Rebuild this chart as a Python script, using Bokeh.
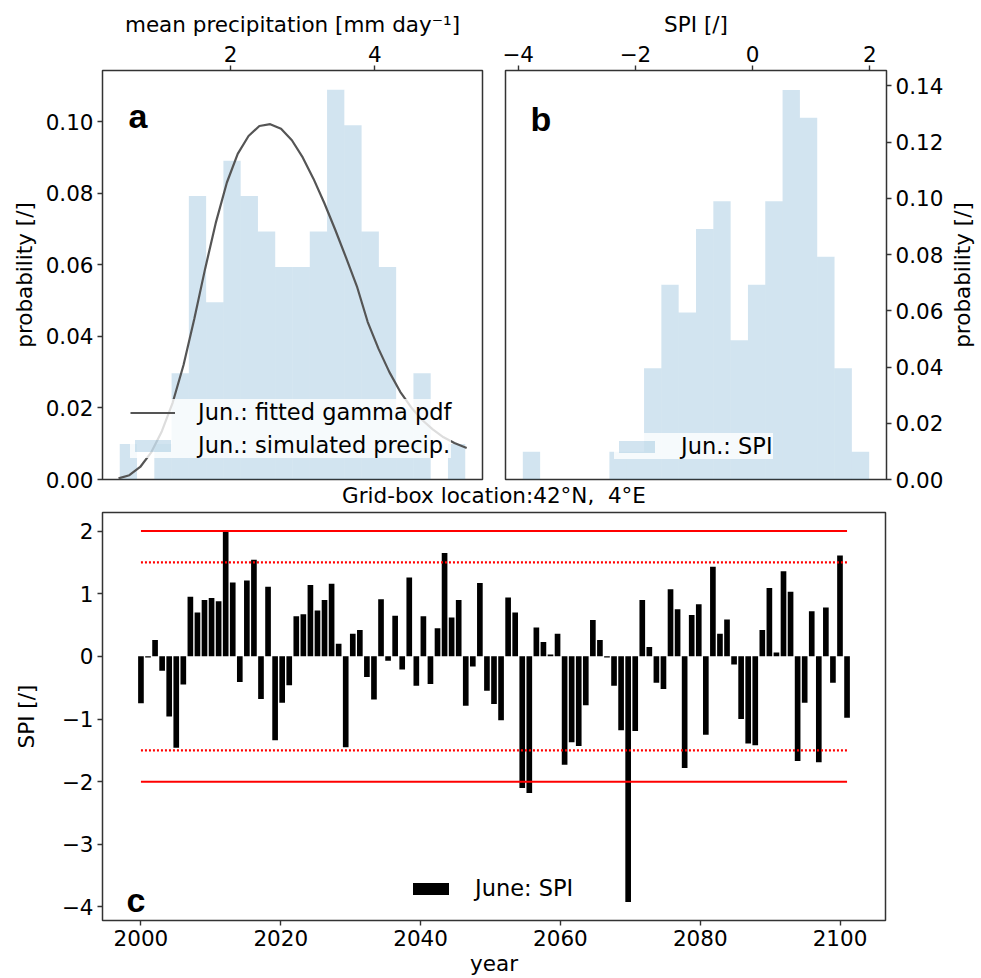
import numpy as np
from bokeh.plotting import figure
from bokeh.models import (Range1d, FixedTicker, NumeralTickFormatter, Legend,
                          LegendItem, Label)
from bokeh.layouts import column, row
from bokeh.embed import file_html
from bokeh.resources import INLINE

# ---------------- data ----------------
# panel a: histogram of simulated June mean precipitation (20 bins)
precip_bin_range = (0.467, 5.25)
precip_prob = [0.0099, 0.0, 0.0099, 0.0297, 0.0792, 0.0495, 0.0891, 0.0792,
               0.0693, 0.0594, 0.0594, 0.0693, 0.1089, 0.0990, 0.0693, 0.0594,
               0.0198, 0.0297, 0.0, 0.0099]
# fitted gamma pdf (scaled to bin width)
gamma_x = [0.45, 0.6, 0.75, 0.9, 1.05, 1.2, 1.35, 1.5, 1.65, 1.8, 1.95, 2.1,
           2.25, 2.4, 2.55, 2.7, 2.85, 3.0, 3.15, 3.3, 3.45, 3.6, 3.75, 3.9,
           4.05, 4.2, 4.35, 4.5, 4.65, 4.8, 4.95, 5.1, 5.27]
gamma_y = [0.0003, 0.0012, 0.0035, 0.0075, 0.0135, 0.0215, 0.032, 0.045,
           0.059, 0.072, 0.083, 0.091, 0.096, 0.0988, 0.0993, 0.0980, 0.0948,
           0.0900, 0.0840, 0.0772, 0.0698, 0.0620, 0.0540, 0.0440, 0.0365,
           0.0300, 0.0245, 0.0202, 0.0167, 0.0140, 0.0118, 0.0102, 0.0088]

# panel b: histogram of June SPI (20 bins)
spi_bin_range = (-3.92, 1.99)
spi_prob = [0.0099, 0.0, 0.0, 0.0, 0.0, 0.0099, 0.0099, 0.0396, 0.0693,
            0.0594, 0.0891, 0.0990, 0.0495, 0.0693, 0.0990, 0.1386, 0.1287,
            0.0792, 0.0396, 0.0099]

# panel c: yearly June SPI
years = list(range(2000, 2101))
spi = [-0.75, -0.02, 0.26, -0.23, -0.96, -1.46, -0.45, 0.95, 0.70, 0.90,
       0.93, 0.88, 1.99, 1.18, -0.41, 1.21, 1.54, -0.68, 1.11, -1.34,
       -0.74, -0.46, 0.64, 0.67, 1.14, 0.73, 0.90, 1.16, 0.20, -1.45,
       0.36, 0.42, -0.33, -0.69, 0.91, -0.07, 0.65, -0.21, 1.26, -0.47,
       0.64, -0.44, 0.45, 1.65, 0.62, 0.90, -0.79, -0.16, 1.17, -0.55,
       -0.76, -1.02, 0.94, 0.70, -2.10, -2.18, 0.46, 0.23, 0.03, 0.36,
       -1.73, -1.37, -1.43, -0.78, 0.58, 0.26, -0.02, -0.47, -1.18, -3.92,
       -1.19, 0.90, 0.15, -0.42, -0.52, 1.07, 0.75, -1.78, 0.66, 0.83,
       -1.25, 1.43, 0.36, 0.59, -0.13, -1.00, -1.39, -1.42, 0.42, 1.09,
       0.06, 1.36, 1.03, -1.67, -0.74, 0.72, -1.69, 0.78, -0.42, 1.61,
       -0.98]
bar_span = (2000, 2101)          # the bars are spread over this x span
solid_levels = [2.0, -2.0]
dotted_levels = [1.5, -1.5]

prob_ticks_a = [0.0, 0.02, 0.04, 0.06, 0.08, 0.10]
prob_ticks_b = [0.0, 0.02, 0.04, 0.06, 0.08, 0.10, 0.12, 0.14]
precip_ticks = [2, 4]
spi_ticks_b = [-4, -2, 0, 2]
year_ticks = [2000, 2020, 2040, 2060, 2080, 2100]
spi_ticks_c = [-4, -3, -2, -1, 0, 1, 2]

# ---------------- styling ----------------
FONT = "DejaVu Sans"
FS = "21.5px"
LFS = "22.5px"
HIST_COLOR = "#1f77b4"
FRAME = "#333333"


def minus(v):
    s = ("%g" % v)
    return s.replace("-", "\u2212")


def style_axis(ax, standoff=6):
    ax.major_label_text_font = FONT
    ax.major_label_text_font_size = FS
    ax.major_label_text_color = "black"
    ax.axis_label_text_font = FONT
    ax.axis_label_text_font_size = FS
    ax.axis_label_text_font_style = "normal"
    ax.axis_label_text_color = "black"
    ax.axis_label_standoff = standoff
    ax.major_tick_in = 0
    ax.major_tick_out = 5
    ax.minor_tick_in = 0
    ax.minor_tick_out = 0
    ax.major_tick_line_color = FRAME
    ax.major_tick_line_width = 1.4
    ax.axis_line_color = None
    ax.major_label_standoff = 4


def base_fig(**kw):
    p = figure(output_backend="svg", toolbar_location=None, **kw)
    p.grid.visible = False
    p.outline_line_color = FRAME
    p.outline_line_width = 1.5
    p.outline_line_alpha = 1.0
    p.background_fill_color = "white"
    p.border_fill_color = "white"
    return p


def style_legend(lg, standoff):
    lg.label_text_font = FONT
    lg.label_text_font_size = LFS
    lg.label_text_color = "black"
    lg.glyph_width = 45
    lg.glyph_height = 15
    lg.label_standoff = standoff
    lg.label_height = 25
    lg.padding = 8
    lg.spacing = 7
    lg.margin = 0
    lg.background_fill_color = "white"
    lg.background_fill_alpha = 0.8
    lg.border_line_color = None


def panel_letter(p, txt, x, y):
    p.add_layout(Label(x=x, y=y, x_units="screen", y_units="screen", text=txt,
                       text_font="Liberation Sans", text_font_size="34px",
                       text_font_style="bold", text_color="black",
                       text_baseline="alphabetic", text_align="left"))


# ---------------- panel a ----------------
pa = base_fig(width=493, height=492, x_range=Range1d(0.228, 5.489),
              y_range=Range1d(0, 0.1143), x_axis_location="above",
              y_axis_location="left", min_border_left=102,
              min_border_right=11, min_border_top=70, min_border_bottom=13)
edges_a = np.linspace(precip_bin_range[0], precip_bin_range[1], len(precip_prob) + 1)
ra_hist = pa.quad(left=edges_a[:-1], right=edges_a[1:], bottom=0, top=precip_prob,
                  fill_color=HIST_COLOR, fill_alpha=0.2, line_color=None)
ra_line = pa.line(gamma_x, gamma_y, line_color="#555555", line_width=2.2)
style_axis(pa.xaxis[0])
pa.xaxis[0].ticker = FixedTicker(ticks=precip_ticks)
pa.xaxis[0].axis_label = "mean precipitation [mm day\u207b\u00b9]"
style_axis(pa.yaxis[0])
pa.yaxis[0].ticker = FixedTicker(ticks=prob_ticks_a)
pa.yaxis[0].formatter = NumeralTickFormatter(format="0.00")
pa.yaxis[0].axis_label = "probability [/]"
lga = Legend(items=[LegendItem(label="Jun.: fitted gamma pdf", renderers=[ra_line]),
                    LegendItem(label="Jun.: simulated precip.", renderers=[ra_hist])],
             location=(28, 21))
style_legend(lga, 23)
pa.add_layout(lga)
panel_letter(pa, "a", 26, 364)

# ---------------- panel b ----------------
pb = base_fig(width=453, height=492, x_range=Range1d(-4.2155, 2.2855),
              y_range=Range1d(0, 0.1455), x_axis_location="above",
              y_axis_location="right", min_border_left=12,
              min_border_right=60, min_border_top=70, min_border_bottom=13)
edges_b = np.linspace(spi_bin_range[0], spi_bin_range[1], len(spi_prob) + 1)
rb_hist = pb.quad(left=edges_b[:-1], right=edges_b[1:], bottom=0, top=spi_prob,
                  fill_color=HIST_COLOR, fill_alpha=0.2, line_color=None)
style_axis(pb.xaxis[0])
pb.xaxis[0].ticker = FixedTicker(ticks=spi_ticks_b)
pb.xaxis[0].major_label_overrides = {t: minus(t) for t in spi_ticks_b}
pb.xaxis[0].axis_label = "SPI [/]"
style_axis(pb.yaxis[0])
pb.yaxis[0].ticker = FixedTicker(ticks=prob_ticks_b)
pb.yaxis[0].formatter = NumeralTickFormatter(format="0.00")
lgb = Legend(items=[LegendItem(label="Jun.: SPI", renderers=[rb_hist])],
             location=(109, 20))
style_legend(lgb, 22)
lgb.padding = 7
pb.add_layout(lgb)
panel_letter(pb, "b", 25, 361)

# narrow strip that carries panel b's y-axis title (reads bottom to top)
pd = figure(width=35, height=492, output_backend="svg", toolbar_location=None,
            x_range=Range1d(0, 1), y_range=Range1d(0, 0.1455),
            x_axis_location=None, y_axis_location="left",
            min_border_left=27, min_border_right=0, min_border_top=70,
            min_border_bottom=13)
pd.grid.visible = False
pd.outline_line_color = None
pd.background_fill_color = "white"
pd.border_fill_color = "white"
style_axis(pd.yaxis[0], standoff=0)
pd.yaxis[0].ticker = FixedTicker(ticks=[])
pd.yaxis[0].major_tick_out = 0
pd.yaxis[0].major_label_standoff = 0
pd.yaxis[0].axis_label = "probability [/]"

# ---------------- panel c ----------------
pc = base_fig(width=981, height=503, x_range=Range1d(1994.5, 2106.5),
              y_range=Range1d(-4.216, 2.296), min_border_left=102,
              min_border_right=96, min_border_top=37, min_border_bottom=57,
              title="Grid-box location:42\u00b0N, \u00a04\u00b0E")
pc.margin = (-17, 0, 0, 0)
pc.border_fill_alpha = 0.0
pc.title.align = "center"
pc.title.text_font = FONT
pc.title.text_font_size = FS
pc.title.text_font_style = "normal"
pc.title.text_color = "black"
pc.title.standoff = 10
xpos = np.linspace(bar_span[0], bar_span[1], len(spi))
rc_bar = pc.vbar(x=xpos, top=spi, bottom=0, width=0.81, fill_color="black",
                 line_color=None)
for lvl in solid_levels:
    pc.line([bar_span[0], bar_span[1]], [lvl, lvl], line_color="red", line_width=2)
for lvl in dotted_levels:
    pc.line([bar_span[0], bar_span[1]], [lvl, lvl], line_color="red",
            line_width=2.2, line_dash="2 2")
style_axis(pc.xaxis[0])
pc.xaxis[0].ticker = FixedTicker(ticks=year_ticks)
pc.xaxis[0].axis_label = "year"
pc.xaxis[0].axis_label_standoff = 2
style_axis(pc.yaxis[0], standoff=20)
pc.yaxis[0].ticker = FixedTicker(ticks=spi_ticks_c)
pc.yaxis[0].major_label_overrides = {t: minus(t) for t in spi_ticks_c}
pc.yaxis[0].axis_label = "SPI [/]"
lgc = Legend(items=[LegendItem(label="June: SPI", renderers=[rc_bar])],
             location=(306, 19))
style_legend(lgc, 22)
pc.add_layout(lgc)
panel_letter(pc, "c", 24, 21)

layout = column(row(pa, pb, pd), pc)
open("out.html", "w").write(file_html(layout, INLINE))
